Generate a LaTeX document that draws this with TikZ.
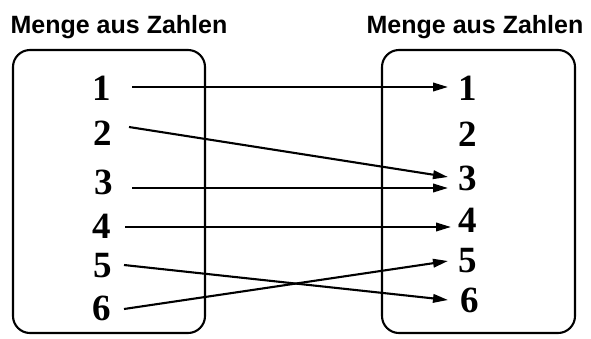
\documentclass[tikz,border=0pt]{standalone}
\usepackage{fontspec}
\setmainfont{Liberation Serif}
\newfontfamily\titlefont{Liberation Sans}
\usetikzlibrary{arrows.meta}
\tikzset{
  setbox/.style={line width=2.1pt, rounded corners=17pt},
  settitle/.style={font=\titlefont\bfseries\fontsize{25}{25}\selectfont, inner sep=0pt, anchor=base},
  num/.style={font=\bfseries\fontsize{37}{37}\selectfont, inner sep=0pt, anchor=base},
  maparrow/.style={line width=2.1pt, -{Triangle[length=15pt,width=8.5pt]}}
}
\begin{document}
\begin{tikzpicture}[x=1pt,y=-1pt]
  \useasboundingbox (0,0) rectangle (591,338);
  % titles
  \node[settitle] (tl) at (119,33) {Menge aus Zahlen};
  \node[settitle] (tr) at (475,33) {Menge aus Zahlen};
  % the two sets
  \draw[setbox] (13,50) rectangle (205,333);
  \draw[setbox] (382,50) rectangle (575,333);
  % elements of the domain
  \node[num] (a1) at (102,100) {1};
  \node[num] (a2) at (103,145) {2};
  \node[num] (a3) at (104,194) {3};
  \node[num] (a4) at (102,238) {4};
  \node[num] (a5) at (103,277) {5};
  \node[num] (a6) at (102,320) {6};
  % elements of the codomain
  \node[num] (b1) at (468,100) {1};
  \node[num] (b2) at (468,146) {2};
  \node[num] (b3) at (468,190) {3};
  \node[num] (b4) at (468,232) {4};
  \node[num] (b5) at (468,272) {5};
  \node[num] (b6) at (470,312) {6};
  % arrow end points
  \coordinate (s1) at (132,87);
  \coordinate (s2) at (129,127);
  \coordinate (s3) at (132,188);
  \coordinate (s4) at (125,227);
  \coordinate (s5) at (124,265);
  \coordinate (s6) at (124,309);
  \coordinate (e1) at (448,87);
  \coordinate (e2) at (448,177);
  \coordinate (e3) at (448,188);
  \coordinate (e4) at (451,227);
  \coordinate (e5) at (448,261);
  \coordinate (e6) at (448,300);
  % the mapping
  \draw[maparrow] (s1) -- (e1);
  \draw[maparrow] (s2) -- (e2);
  \draw[maparrow] (s3) -- (e3);
  \draw[maparrow] (s4) -- (e4);
  \draw[maparrow] (s5) -- (e6);
  \draw[maparrow] (s6) -- (e5);
\end{tikzpicture}
\end{document}
